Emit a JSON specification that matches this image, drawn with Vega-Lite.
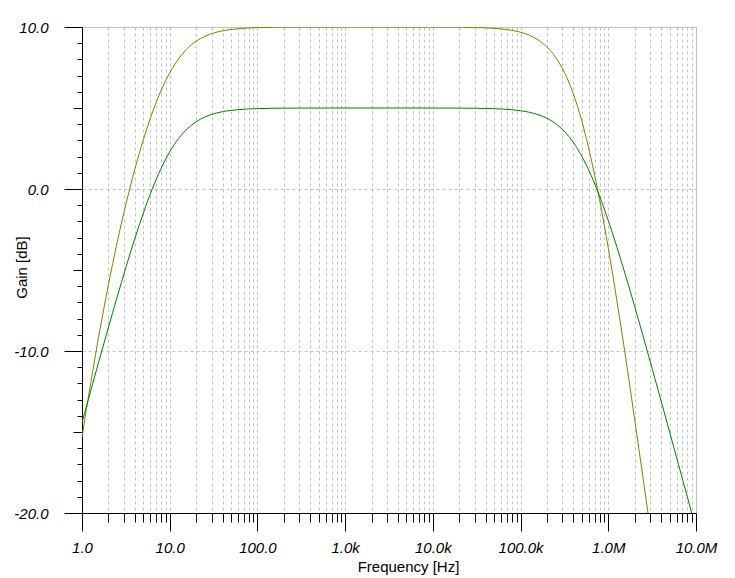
{
  "$schema": "https://vega.github.io/schema/vega-lite/v6.json",
  "width": 614,
  "height": 486,
  "autosize": "none",
  "padding": {"left": 82, "top": 27, "right": 39, "bottom": 65},
  "background": "white",
  "config": {
    "view": {"stroke": "#c0c0c0", "strokeWidth": 1},
    "font": "Liberation Sans"
  },
  "data": {
    "values": [
      {"f": 1.0, "gain": -15.32, "s": "a"},
      {"f": 1.259, "gain": -11.96, "s": "a"},
      {"f": 1.585, "gain": -8.82, "s": "a"},
      {"f": 1.995, "gain": -5.94, "s": "a"},
      {"f": 2.512, "gain": -3.32, "s": "a"},
      {"f": 3.162, "gain": -0.95, "s": "a"},
      {"f": 3.981, "gain": 1.17, "s": "a"},
      {"f": 5.012, "gain": 3.05, "s": "a"},
      {"f": 6.31, "gain": 4.69, "s": "a"},
      {"f": 7.943, "gain": 6.06, "s": "a"},
      {"f": 10, "gain": 7.17, "s": "a"},
      {"f": 12.59, "gain": 8.03, "s": "a"},
      {"f": 15.85, "gain": 8.67, "s": "a"},
      {"f": 19.95, "gain": 9.12, "s": "a"},
      {"f": 25.12, "gain": 9.42, "s": "a"},
      {"f": 31.62, "gain": 9.63, "s": "a"},
      {"f": 39.81, "gain": 9.76, "s": "a"},
      {"f": 50.12, "gain": 9.85, "s": "a"},
      {"f": 63.1, "gain": 9.9, "s": "a"},
      {"f": 79.43, "gain": 9.94, "s": "a"},
      {"f": 100, "gain": 9.96, "s": "a"},
      {"f": 158.5, "gain": 9.985, "s": "a"},
      {"f": 251.2, "gain": 9.994, "s": "a"},
      {"f": 1000, "gain": 10.0, "s": "a"},
      {"f": 10000, "gain": 9.997, "s": "a"},
      {"f": 19950, "gain": 9.987, "s": "a"},
      {"f": 31620, "gain": 9.967, "s": "a"},
      {"f": 50120, "gain": 9.917, "s": "a"},
      {"f": 63100, "gain": 9.869, "s": "a"},
      {"f": 79430, "gain": 9.793, "s": "a"},
      {"f": 100000, "gain": 9.675, "s": "a"},
      {"f": 125900, "gain": 9.49, "s": "a"},
      {"f": 158500, "gain": 9.204, "s": "a"},
      {"f": 199500, "gain": 8.77, "s": "a"},
      {"f": 251200, "gain": 8.127, "s": "a"},
      {"f": 316200, "gain": 7.194, "s": "a"},
      {"f": 398100, "gain": 5.89, "s": "a"},
      {"f": 501200, "gain": 4.16, "s": "a"},
      {"f": 631000, "gain": 1.97, "s": "a"},
      {"f": 794300, "gain": -0.64, "s": "a"},
      {"f": 1000000, "gain": -3.65, "s": "a"},
      {"f": 1259000, "gain": -6.96, "s": "a"},
      {"f": 1585000, "gain": -10.49, "s": "a"},
      {"f": 1995000, "gain": -14.19, "s": "a"},
      {"f": 2512000, "gain": -17.98, "s": "a"},
      {"f": 3162000, "gain": -21.86, "s": "a"},
      {"f": 1.0, "gain": -14.42, "s": "b"},
      {"f": 1.259, "gain": -12.45, "s": "b"},
      {"f": 1.585, "gain": -10.49, "s": "b"},
      {"f": 1.995, "gain": -8.57, "s": "b"},
      {"f": 2.512, "gain": -6.68, "s": "b"},
      {"f": 3.162, "gain": -4.85, "s": "b"},
      {"f": 3.981, "gain": -3.1, "s": "b"},
      {"f": 5.012, "gain": -1.48, "s": "b"},
      {"f": 6.31, "gain": -0.01, "s": "b"},
      {"f": 7.943, "gain": 1.25, "s": "b"},
      {"f": 10, "gain": 2.29, "s": "b"},
      {"f": 12.59, "gain": 3.11, "s": "b"},
      {"f": 15.85, "gain": 3.715, "s": "b"},
      {"f": 19.95, "gain": 4.146, "s": "b"},
      {"f": 25.12, "gain": 4.442, "s": "b"},
      {"f": 31.62, "gain": 4.64, "s": "b"},
      {"f": 39.81, "gain": 4.77, "s": "b"},
      {"f": 50.12, "gain": 4.853, "s": "b"},
      {"f": 63.1, "gain": 4.907, "s": "b"},
      {"f": 79.43, "gain": 4.941, "s": "b"},
      {"f": 100, "gain": 4.963, "s": "b"},
      {"f": 158.5, "gain": 4.985, "s": "b"},
      {"f": 251.2, "gain": 4.994, "s": "b"},
      {"f": 1000, "gain": 5.0, "s": "b"},
      {"f": 10000, "gain": 4.998, "s": "b"},
      {"f": 19950, "gain": 4.993, "s": "b"},
      {"f": 31620, "gain": 4.983, "s": "b"},
      {"f": 50120, "gain": 4.957, "s": "b"},
      {"f": 63100, "gain": 4.932, "s": "b"},
      {"f": 79430, "gain": 4.893, "s": "b"},
      {"f": 100000, "gain": 4.832, "s": "b"},
      {"f": 125900, "gain": 4.736, "s": "b"},
      {"f": 158500, "gain": 4.589, "s": "b"},
      {"f": 199500, "gain": 4.366, "s": "b"},
      {"f": 251200, "gain": 4.033, "s": "b"},
      {"f": 316200, "gain": 3.554, "s": "b"},
      {"f": 398100, "gain": 2.888, "s": "b"},
      {"f": 501200, "gain": 2.005, "s": "b"},
      {"f": 631000, "gain": 0.894, "s": "b"},
      {"f": 794300, "gain": -0.433, "s": "b"},
      {"f": 1000000, "gain": -1.948, "s": "b"},
      {"f": 1259000, "gain": -3.612, "s": "b"},
      {"f": 1585000, "gain": -5.386, "s": "b"},
      {"f": 1995000, "gain": -7.235, "s": "b"},
      {"f": 2512000, "gain": -9.14, "s": "b"},
      {"f": 3162000, "gain": -11.077, "s": "b"},
      {"f": 3981000, "gain": -13.04, "s": "b"},
      {"f": 5012000, "gain": -15.01, "s": "b"},
      {"f": 6310000, "gain": -17.0, "s": "b"},
      {"f": 7943000, "gain": -18.98, "s": "b"},
      {"f": 10000000, "gain": -20.98, "s": "b"}
    ]
  },
  "mark": {"type": "line", "clip": true, "strokeWidth": 1, "interpolate": "monotone"},
  "encoding": {
    "x": {
      "field": "f",
      "type": "quantitative",
      "scale": {"type": "log", "domain": [1, 10000000], "nice": false},
      "axis": {
        "title": "Frequency [Hz]",
        "titleFont": "Liberation Sans",
        "titleFontSize": 15,
        "titleFontWeight": "normal",
        "titleColor": "black",
        "titleX": 326,
        "titleY": 53,
        "titleBaseline": "middle",
        "titleAlign": "center",
        "values": [1,2,3,4,5,6,7,8,9,10,20,30,40,50,60,70,80,90,100,200,300,400,500,600,700,800,900,1000,2000,3000,4000,5000,6000,7000,8000,9000,10000,20000,30000,40000,50000,60000,70000,80000,90000,100000,200000,300000,400000,500000,600000,700000,800000,900000,1000000,2000000,3000000,4000000,5000000,6000000,7000000,8000000,9000000,10000000],
        "labelExpr": "abs(log(datum.value)/LN10 - round(log(datum.value)/LN10)) < 1e-6 ? (datum.value >= 999999 ? format(datum.value/1e6, '.1f') + 'M' : datum.value >= 999 ? format(datum.value/1e3, '.1f') + 'k' : format(datum.value, '.1f')) : ''",
        "labelFont": "Liberation Sans",
        "labelFontSize": 15,
        "labelFontStyle": "italic",
        "labelColor": "black",
        "labelPadding": 9,
        "labelOverlap": false,
        "labelFlush": false,
        "domainColor": "black",
        "domainWidth": 1,
        "tickColor": "black",
        "tickWidth": 1,
        "tickSize": {"condition": {"test": "abs(log(datum.value)/LN10 - round(log(datum.value)/LN10)) < 1e-6", "value": 18}, "value": 9},
        "grid": true,
        "gridColor": "#c0c0c0",
        "gridDash": [3, 3],
        "gridWidth": 1
      }
    },
    "y": {
      "field": "gain",
      "type": "quantitative",
      "scale": {"domain": [-20, 10], "nice": false, "zero": false},
      "axis": {
        "title": "Gain [dB]",
        "titleFont": "Liberation Sans",
        "titleFontSize": 15,
        "titleFontWeight": "normal",
        "titleColor": "black",
        "titleX": -61,
        "titleY": 240,
        "titleBaseline": "middle",
        "titleAlign": "center",
        "values": [-20,-19,-18,-17,-16,-15,-14,-13,-12,-11,-10,-9,-8,-7,-6,-5,-4,-3,-2,-1,0,1,2,3,4,5,6,7,8,9,10],
        "labelExpr": "datum.value % 10 == 0 ? (datum.value < 0 ? '-' + format(-datum.value, '.1f') : format(abs(datum.value), '.1f')) : ''",
        "labelFont": "Liberation Sans",
        "labelFontSize": 15,
        "labelFontStyle": "italic",
        "labelColor": "black",
        "labelPadding": 16,
        "labelOverlap": false,
        "labelFlush": false,
        "domainColor": "black",
        "domainWidth": 1,
        "tickColor": "black",
        "tickWidth": 1,
        "tickSize": {"condition": [{"test": "datum.value % 10 == 0", "value": 18}, {"test": "datum.value % 5 == 0", "value": 9}], "value": 5},
        "grid": true,
        "gridColor": "#c0c0c0",
        "gridDash": [3, 3],
        "gridWidth": 1,
        "gridOpacity": {"condition": {"test": "datum.value % 10 == 0", "value": 1}, "value": 0}
      }
    },
    "color": {
      "field": "s",
      "type": "nominal",
      "scale": {"domain": ["a", "b"], "range": ["#808000", "#008000"]},
      "legend": null
    }
  }
}
